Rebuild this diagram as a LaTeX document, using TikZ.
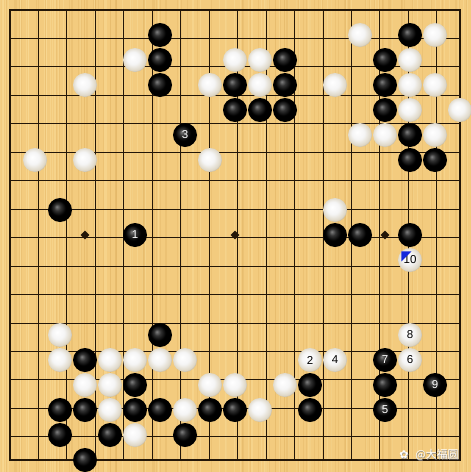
\documentclass[tikz,border=0pt]{standalone}
\usepackage{fontspec}
\setmainfont{Liberation Sans}
\newfontfamily\cjkfont{Noto Sans CJK SC}
\newfontfamily\symbfont{DejaVu Sans}
\definecolor{wood}{RGB}{243,203,126}
\definecolor{woodlight}{RGB}{250,220,150}
\definecolor{wooddark}{RGB}{225,180,100}
\definecolor{gridcol}{RGB}{35,22,8}
\definecolor{wshA}{RGB}{222,215,198}
\definecolor{wshB}{RGB}{165,152,125}
\definecolor{markblue}{RGB}{20,40,220}
\pgfdeclareradialshading{bstoneshade}{\pgfpoint{-7bp}{7bp}}{color(0bp)=(black!50!white); color(7bp)=(black!80!white); color(16bp)=(black); color(40bp)=(black)}
\pgfdeclareradialshading{wstoneshade}{\pgfpoint{-6bp}{6bp}}{color(0bp)=(white); color(13bp)=(white!96!black); color(24bp)=(wshA); color(30bp)=(wshB); color(40bp)=(wshB)}
\tikzset{
  stone/.style={circle, minimum size=24pt, inner sep=0pt, font=\fontsize{11.5}{11.5}\selectfont},
  bstone/.style={stone, shading=bstoneshade, text=white},
  wstone/.style={stone, shading=wstoneshade, text=black},
  gridline/.style={draw=gridcol, line width=0.9pt},
  boardborder/.style={draw=gridcol, line width=2pt},
  starpt/.style={diamond, fill=gridcol, inner sep=0pt, minimum size=9pt},
  lastmark/.style={fill=markblue},
  wmark/.style={text=white, font=\cjkfont\fontsize{11}{11}\selectfont},
  wshadow/.style={text=black!45, font=\cjkfont\fontsize{11}{11}\selectfont}
}
\usetikzlibrary{shapes.geometric}
\begin{document}
\begin{tikzpicture}[x=1pt,y=-1pt]
\useasboundingbox (0,0) rectangle (471,472);
\fill[wood] (0,0) rectangle (471,472);
\pgfmathsetseed{11}
\foreach \i in {1,...,110}{
  \pgfmathsetmacro\xx{rnd*471}
  \pgfmathsetmacro\ww{0.3+rnd*1.2}
  \draw[wooddark, opacity=0.35, line width=\ww pt] (\xx,0) -- (\xx,472);
}
\foreach \i in {1,...,80}{
  \pgfmathsetmacro\xx{rnd*471}
  \pgfmathsetmacro\ww{0.3+rnd*1.2}
  \draw[woodlight, opacity=0.5, line width=\ww pt] (\xx,0) -- (\xx,472);
}
\begin{scope}[shift={(10,10)}, x=25pt, y=-25pt]
  \draw[gridline] (0,0) grid (18,18);
  \draw[boardborder] (0,0) rectangle (18,18);
  \foreach \c in {3,9,15}{
    \foreach \r in {3,9,15}{
      \node[starpt] (star-\c-\r) at (\c,\r) {};
    }
  }
  % black stones
  \foreach \c/\r in {6/1,6/2,6/3,11/2,9/3,11/3,9/4,10/4,11/4,16/1,15/2,15/3,15/4,16/5,16/6,17/6,2/8,13/9,14/9,16/9,6/13,3/14,5/15,2/16,3/16,5/16,6/16,8/16,9/16,12/15,12/16,2/17,4/17,7/17,3/18,15/15}{
    \node[bstone] (b-\c-\r) at (\c,\r) {};
  }
  % white stones
  \foreach \c/\r in {5/2,3/3,9/2,10/2,8/3,10/3,8/6,1/6,3/6,14/1,17/1,16/2,13/3,16/3,17/3,16/4,18/4,14/5,15/5,17/5,13/8,2/13,2/14,4/14,5/14,6/14,7/14,3/15,4/15,8/15,9/15,11/15,4/16,7/16,10/16,5/17}{
    \node[wstone] (w-\c-\r) at (\c,\r) {};
  }
  % numbered moves
  \node[bstone] (m1) at (5,9) {1};
  \node[wstone] (m2) at (12,14) {2};
  \node[bstone] (m3) at (7,5) {3};
  \node[wstone] (m4) at (13,14) {4};
  \node[bstone] (m5) at (15,16) {5};
  \node[wstone] (m6) at (16,14) {6};
  \node[bstone] (m7) at (15,14) {7};
  \node[wstone] (m8) at (16,13) {8};
  \node[bstone] (m9) at (17,15) {9};
  \node[wstone] (m10) at (16,10) {10};
  \fill[lastmark] (m10.north west) -- ++(10pt,0pt) -- ++(-10pt,-10pt) -- cycle;
\end{scope}
% watermark
\node[text=black!40, font=\symbfont\fontsize{11}{11}\selectfont] (wicon-s) at (404.5,455.5) {✿};
\node[text=white, font=\symbfont\fontsize{11}{11}\selectfont] (wicon) at (404,455) {✿};
\node[wshadow] (wtext-s) at (437.6,455.6) {@大福圆};
\node[wmark] (wtext) at (437,455) {@大福圆};
\end{tikzpicture}
\end{document}
